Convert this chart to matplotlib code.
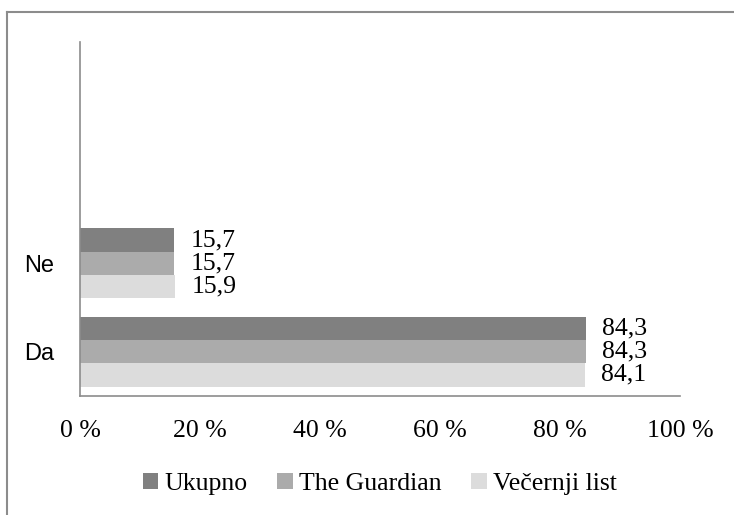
import numpy as np
import matplotlib.pyplot as plt
from matplotlib.lines import Line2D

categories = ['Da', 'Ne', '', '']
series = ['Ukupno', 'The Guardian', 'Večernji list']
ukupno = [84.3, 15.7]
guardian = [84.3, 15.7]
vecernji = [84.1, 15.9]
xticks = [0, 20, 40, 60, 80, 100]
xtick_labels = ['0 %', '20 %', '40 %', '60 %', '80 %', '100 %']

colors = ['#808080', '#ababab', '#dcdcdc']
serif = 'Liberation Serif'
fs = 18.5

fig = plt.figure(figsize=(7.34, 5.15), dpi=100)
ax = fig.add_axes([80/734, 1 - 396/515, 600/734, 354/515])

y = np.arange(len(ukupno))
h = 0.262
offsets = [h, 0, -h]
for vals, off, col, name in zip([ukupno, guardian, vecernji], offsets, colors, series):
    bars = ax.barh(y + off, vals, height=h, color=col, label=name)
    ax.bar_label(bars, labels=[str(v).replace('.', ',') for v in vals],
                 padding=12, fontsize=fs, family=serif)

ax.set_xlim(0, 100)
ax.set_ylim(-0.5, len(categories) - 0.5)
ax.set_yticks(np.arange(len(categories)))
ax.set_yticklabels(categories, family='Liberation Sans', fontsize=17)
ax.set_xticks(xticks)
ax.set_xticklabels(xtick_labels, family=serif, fontsize=fs)
ax.tick_params(length=0)
ax.tick_params(axis='y', pad=18.5)
ax.tick_params(axis='x', pad=17.5)

for s in ['top', 'right']:
    ax.spines[s].set_visible(False)
for s in ['left', 'bottom']:
    ax.spines[s].set_color('#8c8c8c')
    ax.spines[s].set_linewidth(1.2)

# outer chart frame (cut off at right and bottom)
fig.add_artist(Line2D([7/734, 1.01], [1 - 12/515, 1 - 12/515], color='#8c8c8c', lw=1.5))
fig.add_artist(Line2D([7/734, 7/734], [-0.01, 1 - 12/515], color='#8c8c8c', lw=1.5))

fig.legend(loc='center', bbox_to_anchor=(380/734, 1 - 484/515), ncol=3, frameon=False,
           prop={'family': serif, 'size': fs}, handlelength=0.6, handleheight=0.6,
           handletextpad=0.25, columnspacing=1.15)

fig.savefig('out.png', dpi=100)
